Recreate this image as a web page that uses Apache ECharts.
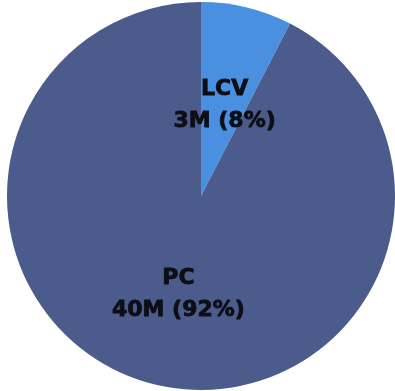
<!DOCTYPE html>
<html><head><meta charset="utf-8">
<script src="https://cdn.jsdelivr.net/npm/echarts@6/dist/echarts.min.js"></script>
<style>html,body{margin:0;padding:0;background:#fff}#c{width:395px;height:391px}</style>
</head><body><div id="c"></div>
<script>
var categories = ['LCV', 'PC'];
var values = [3.3, 40.2];
var valueLabels = ['3M (8%)', '40M (92%)'];
var colors = ['#4a90e0', '#4b5b8c'];
var labelOffsets = [[0, 6], [1, 1]];

var chart = echarts.init(document.getElementById('c'));
chart.setOption({
  animation: false,
  series: [{
    type: 'pie',
    center: [201, 196],
    radius: 194,
    startAngle: 90,
    clockwise: true,
    data: categories.map(function (c, i) {
      return { name: c, value: values[i], itemStyle: { color: colors[i] },
               label: { offset: labelOffsets[i] } };
    }),
    label: {
      position: 'inside',
      formatter: function (p) { return p.name + '\n' + valueLabels[p.dataIndex]; },
      fontFamily: 'DejaVu Sans',
      fontWeight: 'bold',
      fontSize: 22,
      lineHeight: 32,
      color: '#0d0d14',
      textBorderColor: '#0d0d14',
      textBorderWidth: 0.8
    },
    labelLine: { show: false },
    itemStyle: { borderWidth: 0 }
  }]
});
</script></body></html>
